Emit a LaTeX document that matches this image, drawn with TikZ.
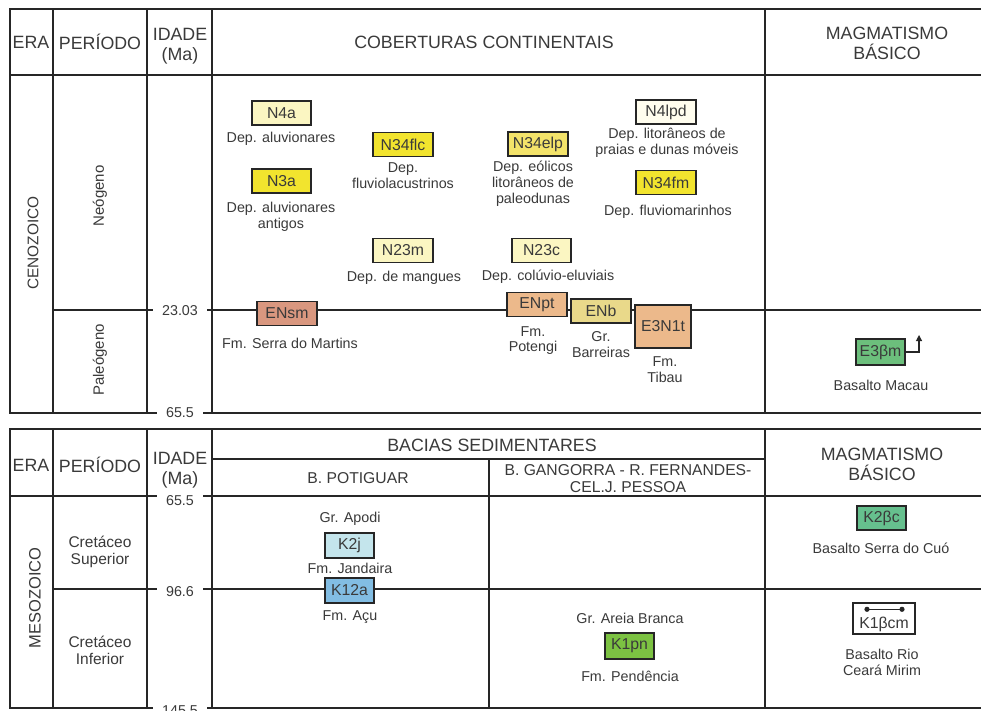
\documentclass[tikz,border=0pt]{standalone}
\usepackage{fontspec}
\setmainfont{Liberation Sans}
\usetikzlibrary{arrows.meta}
\definecolor{txt}{HTML}{3A3A3A}
\definecolor{ln}{HTML}{262626}
\definecolor{cLy}{HTML}{FBF6C2}
\definecolor{cBy}{HTML}{F2E42E}
\definecolor{cMy}{HTML}{F3E36A}
\definecolor{cWy}{HTML}{FFFDEE}
\definecolor{cSm}{HTML}{D9977F}
\definecolor{cOr}{HTML}{ECB98B}
\definecolor{cKh}{HTML}{E9D98A}
\definecolor{cGm}{HTML}{6CBF7C}
\definecolor{cGc}{HTML}{66C08E}
\definecolor{cCy}{HTML}{C4E5EC}
\definecolor{cBl}{HTML}{82BDE3}
\definecolor{cGp}{HTML}{7CC242}
\newcommand\fhead{\fontsize{17.8}{20}\selectfont}
\newcommand\fsubh{\fontsize{15.7}{17}\selectfont}
\newcommand\flab{\fontsize{14.3}{15.8}\selectfont}
\newcommand\funit{\fontsize{15.8}{17}\selectfont}
\begin{document}
\begin{tikzpicture}[x=1pt,y=-1pt,
  frame/.style={draw=ln,line width=2.6pt},
  grid/.style={draw=ln,line width=1.6pt},
  head/.style={text=txt,font=\fhead,align=center,inner sep=0pt},
  subh/.style={text=txt,font=\fsubh,align=center,inner sep=0pt},
  lbl/.style={text=txt,font=\flab,align=center,inner sep=0pt},
  age/.style={text=txt,font=\flab,fill=white,inner xsep=9pt,inner ysep=2pt},
  unit/.style={draw=ln,line width=1.4pt,inner sep=0pt,minimum height=24pt,text=txt,font=\funit}]
\useasboundingbox (0,0) rectangle (981,711);
\clip (0,0) rectangle (981,711);
\fill[white] (0,0) rectangle (981,711);

% ---------- top table ----------
\draw[grid] (10,75) -- (981,75);
\draw[grid] (53,9) -- (53,413);
\draw[grid] (147,9) -- (147,413);
\draw[grid] (212,9) -- (212,413);
\draw[grid] (765,9) -- (765,413);
\draw[grid,line width=1.4pt] (53,310) -- (981,310);
\draw[frame] (981,9) -- (10,9) -- (10,413) -- (981,413);
\node[age] (a2303) at (180,311) {23.03};
\node[age] (a655t) at (180,413) {65.5};

\node[head] (hera1) at (31,42) {ERA};
\node[head] (hper1) at (100,42) {PERÍODO};
\node[head] (hida1) at (180,46) {IDADE\\(Ma)};
\node[head] (hcob) at (484,42) {COBERTURAS CONTINENTAIS};
\node[head] (hmag1) at (887,43) {MAGMATISMO\\BÁSICO};
\node[lbl,rotate=90,font=\fontsize{15.4}{17}\selectfont] (ceno) at (33,243) {CENOZOICO};
\node[lbl,rotate=90,font=\fontsize{15}{17}\selectfont] (neog) at (100,196) {Neógeno};
\node[lbl,rotate=90,font=\fontsize{15}{17}\selectfont] (paleog) at (100,360) {Paleógeno};

% Neogene units
\node[unit,fill=cLy,minimum width=59pt] (n4a) at (281.5,113) {N4a};
\node[lbl] (ln4a) at (281,139) {Dep. aluvionares};
\node[unit,fill=cBy,minimum width=59pt] (n3a) at (281.5,181) {N3a};
\node[lbl] (ln3a) at (281,217) {Dep. aluvionares\\antigos};
\node[unit,fill=cBy,minimum width=60pt] (n34flc) at (403,144.5) {N34flc};
\node[lbl] (ln34flc) at (403,175.5) {Dep.\\fluviolacustrinos};
\node[unit,fill=cLy,minimum width=60pt] (n23m) at (403,250.5) {N23m};
\node[lbl] (ln23m) at (404,278) {Dep. de mangues};
\node[unit,fill=cMy,minimum width=60pt] (n34elp) at (538,144) {N34elp};
\node[lbl] (ln34elp) at (533,183.5) {Dep. eólicos\\litorâneos de\\paleodunas};
\node[unit,fill=cWy,minimum width=60pt] (n4lpd) at (666,112) {N4lpd};
\node[lbl] (ln4lpd) at (667,143) {Dep. litorâneos de\\praias e dunas móveis};
\node[unit,fill=cBy,minimum width=60pt] (n34fm) at (666,182.5) {N34fm};
\node[lbl] (ln34fm) at (668,212) {Dep. fluviomarinhos};
\node[unit,fill=cLy,minimum width=59pt] (n23c) at (541.5,250.5) {N23c};
\node[lbl] (ln23c) at (548,277) {Dep. colúvio-eluviais};

% Paleogene units
\node[unit,fill=cSm,minimum width=60pt] (ensm) at (287,313.5) {ENsm};
\node[lbl] (lensm) at (290,343) {Fm. Serra do Martins};
\node[unit,fill=cOr,minimum width=60pt] (enpt) at (537,304.5) {ENpt};
\node[lbl] (lenpt) at (533,340.5) {Fm.\\Potengi};
\node[unit,fill=cKh,minimum width=60pt] (enb) at (601,311) {ENb};
\node[lbl] (lenb) at (601,344.5) {Gr.\\Barreiras};
\node[unit,fill=cOr,minimum width=56pt,minimum height=43pt] (e3n1t) at (663,326.5) {E3N1t};
\node[lbl] (le3n1t) at (665,370) {Fm.\\Tibau};

% Magmatism top
\node[unit,fill=cGm,minimum width=49pt,minimum height=26pt] (e3bm) at (880.5,352) {E3βm};
\coordinate (arrtip) at (919,335);
\draw[ln,line width=1.1pt,-{Triangle[length=6pt,width=6pt]}] (e3bm.east) -| (arrtip);
\node[lbl] (le3bm) at (881,385) {Basalto Macau};

% ---------- bottom table ----------
\draw[grid] (10,496) -- (981,496);
\draw[grid] (212,459) -- (765,459);
\draw[grid] (53,429) -- (53,708);
\draw[grid] (147,429) -- (147,708);
\draw[grid] (212,429) -- (212,708);
\draw[grid] (765,429) -- (765,708);
\draw[grid] (489,459) -- (489,708);
\draw[grid,line width=1.4pt] (53,589) -- (981,589);
\draw[frame] (981,429) -- (10,429) -- (10,708) -- (981,708);
\node[age] (a655b) at (180,501) {65.5};
\node[age] (a966) at (180,592) {96.6};
\node[age] (a1455) at (180,711) {145.5};

\node[head] (hera2) at (31,465) {ERA};
\node[head] (hper2) at (100,465) {PERÍODO};
\node[head] (hida2) at (180,470) {IDADE\\(Ma)};
\node[head] (hbac) at (492,445) {BACIAS SEDIMENTARES};
\node[subh] (hpot) at (358,478) {B. POTIGUAR};
\node[subh] (hgan) at (628,478.5) {B. GANGORRA - R. FERNANDES-\\CEL.J. PESSOA};
\node[head] (hmag2) at (882,464) {MAGMATISMO\\BÁSICO};
\node[lbl,rotate=90,font=\fontsize{16.5}{18}\selectfont] (meso) at (35,598) {MESOZOICO};
\node[lbl,font=\fontsize{15.5}{17}\selectfont] (csup) at (100,551.5) {Cretáceo\\Superior};
\node[lbl,font=\fontsize{15.5}{17}\selectfont] (cinf) at (100,650.5) {Cretáceo\\Inferior};

\node[lbl] (lapodi) at (350,519) {Gr. Apodi};
\node[unit,fill=cCy,minimum width=49pt,minimum height=25pt] (k2j) at (349.5,545.5) {K2j};
\node[lbl] (lk2j) at (350,568) {Fm. Jandaira};
\node[unit,fill=cBl,minimum width=49pt,minimum height=25pt] (k12a) at (349.5,590.5) {K12a};
\node[lbl] (lk12a) at (350,617) {Fm. Açu};

\node[lbl] (lareia) at (630,618) {Gr. Areia Branca};
\node[unit,fill=cGp,minimum width=49pt,minimum height=26pt] (k1pn) at (629.5,646) {K1pn};
\node[lbl] (lk1pn) at (630,676) {Fm. Pendência};

\node[unit,fill=cGc,minimum width=49pt,minimum height=24pt] (k2bc) at (881.5,518) {K2βc};
\node[lbl] (lk2bc) at (881,548) {Basalto Serra do Cuó};
\node[unit,fill=white,minimum width=62pt,minimum height=31pt] (k1bcm) at (884,618.5) {\raisebox{-10pt}[0pt][0pt]{K1βcm}};
\path (k1bcm.north) ++(-17,7) coordinate (d1) (k1bcm.north) ++(18,7) coordinate (d2);
\draw[ln,line width=1pt] (d1) -- (d2);
\fill[ln] (d1) circle (2.6pt) (d2) circle (2.6pt);
\node[lbl] (lk1bcm) at (882,662.5) {Basalto Rio\\Ceará Mirim};
\end{tikzpicture}
\end{document}
